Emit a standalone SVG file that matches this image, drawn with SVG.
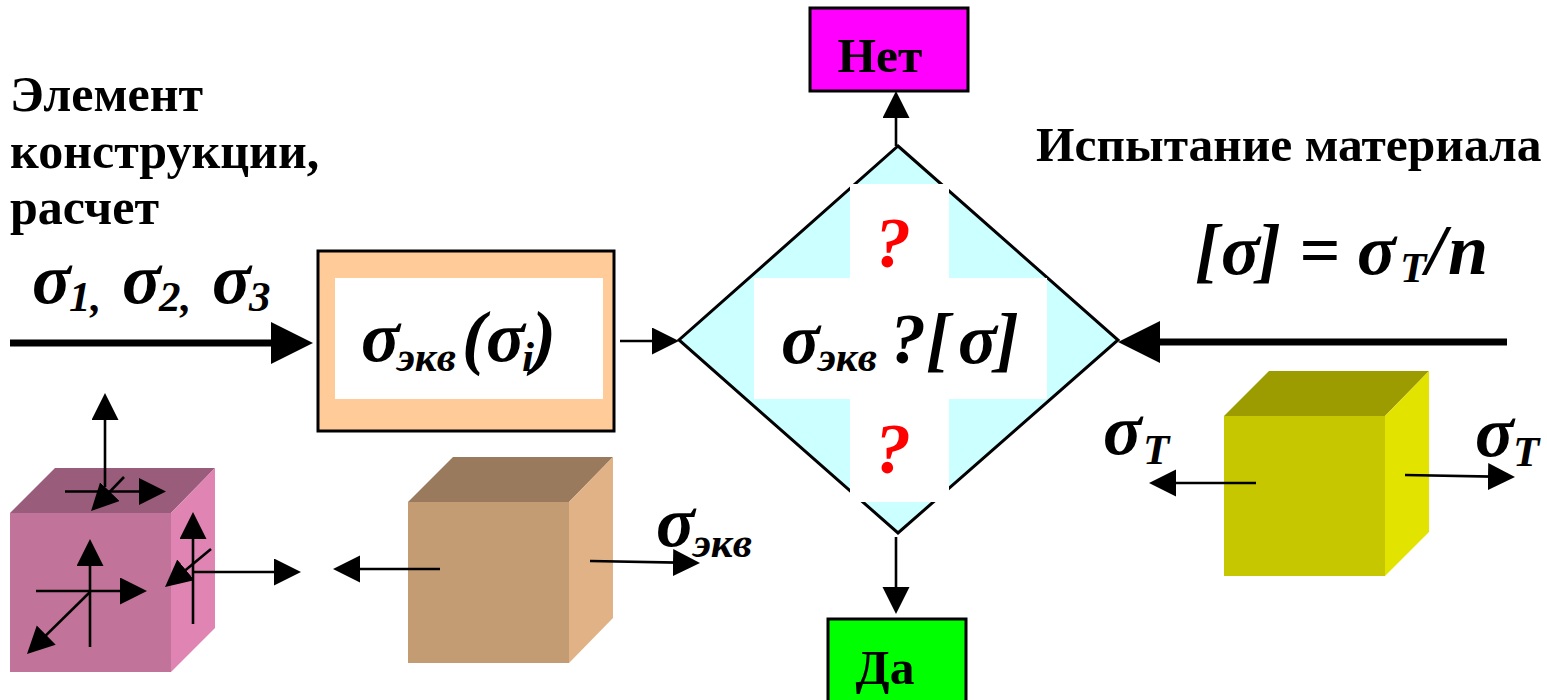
<svg xmlns="http://www.w3.org/2000/svg" width="1547" height="700" viewBox="0 0 1547 700">
<style>
text{font-family:"Liberation Serif","Times New Roman",serif;font-weight:bold;fill:#000}
.lbl{font-size:49.5px}
.lft{font-size:50px}
.m{font-style:italic;font-size:72px}
.s{font-size:43px}
.q{font-style:italic;font-size:72px;fill:#f00}
.thin{stroke:#000;stroke-width:2.6;fill:none;marker-end:url(#ah)}
.thick{stroke:#000;stroke-width:7;fill:none;marker-end:url(#AH)}
.box{stroke:#000;stroke-width:3}
</style>
<defs>
<marker id="ah" markerUnits="userSpaceOnUse" markerWidth="28" markerHeight="28" refX="19" refY="13.5" orient="auto"><path d="M0,0L27,13.5L0,27z" fill="#000"/></marker>
<marker id="AH" markerUnits="userSpaceOnUse" markerWidth="44" markerHeight="44" refX="27" refY="21" orient="auto"><path d="M0,0L42,21L0,42z" fill="#000"/></marker>
</defs>
<g id="cube-pink"><path d="M10,513L55,468H215L171,513z" fill="#995c7a"/><path d="M171,513L215,468V628L171,672z" fill="#e085b3"/><rect x="10" y="513" width="161" height="159" fill="#c27399"/></g>
<g id="cube-brown"><path d="M408,502L453,457H613L569,502z" fill="#997a5c"/><path d="M569,502L613,457V618L569,663z" fill="#e0b285"/><rect x="408" y="502" width="161" height="161" fill="#c49c73"/></g>
<g id="cube-yellow"><path d="M1224,416L1269,371H1429L1385,416z" fill="#9c9c00"/><path d="M1385,416L1429,371V532L1385,576z" fill="#e3e300"/><rect x="1224" y="416" width="161" height="160" fill="#c7c700"/></g>
<g id="box-eq"><rect class="box" x="318" y="251" width="296" height="180" fill="#ffcc99"/><rect x="335" y="278" width="268" height="121" fill="#fff"/>
<text class="m" x="361" y="361">σ<tspan class="s" x="397" y="371">экв</tspan><tspan x="462" y="361">(σ</tspan><tspan class="s" x="522" y="371">i</tspan><tspan x="532" y="361">)</tspan></text></g>
<g id="diamond"><path d="M898,146L1118,340L898,533L679,340z" fill="#ccffff" stroke="#000" stroke-width="3"/><path d="M850,184H949V278H1047V399H949V502H850V399H754V278H850z" fill="#fff"/>
<text class="q" x="875" y="267">?</text><text class="q" x="875" y="473">?</text>
<text class="m" x="781" y="363">σ<tspan class="s" x="818" y="371">экв</tspan><tspan x="890" y="363">?</tspan><tspan x="926">[</tspan><tspan x="958">σ</tspan><tspan x="995">]</tspan></text></g>
<g id="box-no"><rect class="box" x="810" y="8" width="158" height="83" fill="#f0f"/><text class="lbl" x="880" y="72" text-anchor="middle">Нет</text></g>
<g id="box-yes"><rect class="box" x="828" y="619" width="138" height="90" fill="#0f0"/><text class="lbl" x="885" y="684" text-anchor="middle">Да</text></g>
<g id="labels">
<text class="lft" x="10" y="111">Элемент</text><text class="lft" x="10" y="168">конструкции,</text><text class="lft" x="10" y="224">расчет</text>
<text class="lbl" x="1036" y="161">Испытание материала</text>
<text class="m" x="32" y="303">σ<tspan class="s" x="69" y="311">1,</tspan><tspan x="122" y="303">σ</tspan><tspan class="s" x="159" y="311">2,</tspan><tspan x="212" y="303">σ</tspan><tspan class="s" x="249" y="311">3</tspan></text>
<text class="m" x="1195" y="274">[<tspan x="1221">σ</tspan><tspan x="1257">]</tspan><tspan x="1299">=</tspan><tspan x="1357">σ</tspan><tspan class="s" x="1400" y="282">T</tspan><tspan x="1426" y="274">/</tspan><tspan x="1448">n</tspan></text>
<text class="m" x="1103" y="454">σ<tspan class="s" x="1143" y="464">T</tspan></text>
<text class="m" x="1475" y="456">σ<tspan class="s" x="1513" y="466">T</tspan></text>
<text class="m" x="656" y="546">σ<tspan class="s" x="693" y="557">экв</tspan></text>
</g>
<g id="connectors">
<path class="thick" d="M10,343H298"/><path class="thick" d="M1507,342H1133"/>
<path class="thin" d="M620,341H671"/><path class="thin" d="M896,146V99"/><path class="thin" d="M896,537V606"/>
<path class="thin" d="M440,569H341"/><path class="thin" d="M590,561L692,562.9"/><path class="thin" d="M1256,483H1157"/><path class="thin" d="M1405,475L1507,476.9"/>
<path class="thin" d="M105,487V401"/><path class="thin" d="M65,491.5H158"/><path class="thin" d="M124,477L96.6,505.3"/>
<path class="thin" d="M90,647V547"/><path class="thin" d="M36,591H139"/><path class="thin" d="M90,592L32.7,648.4"/>
<path class="thin" d="M193,624V520"/><path class="thin" d="M211,549L171.2,581.9"/><path class="thin" d="M193,572H293"/>
</g>
</svg>
